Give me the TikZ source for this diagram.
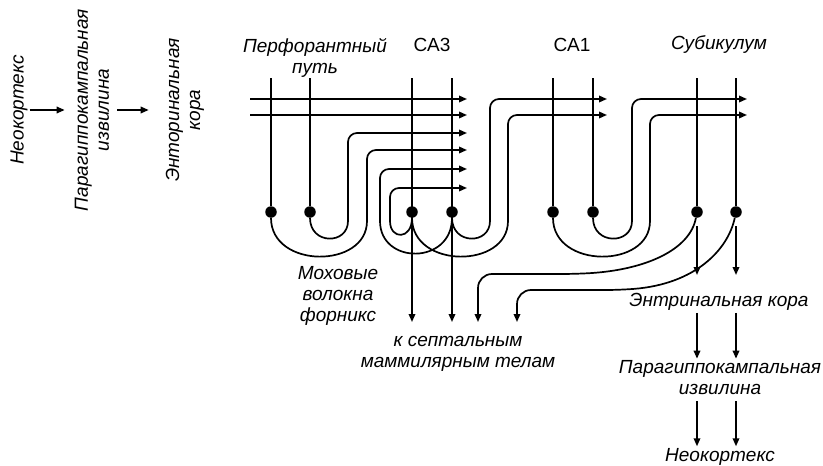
\documentclass[tikz,border=0pt]{standalone}
\usepackage{fontspec}
\setmainfont{Liberation Sans}
\usetikzlibrary{arrows.meta, positioning, calc}
\tikzset{
  dot/.style  ={circle, fill=black, minimum size=11.5pt, inner sep=0pt},
  fib/.style  ={line width=1.7pt, line join=round},
  fibA/.style ={fib, -{Triangle[length=8pt, width=6.5pt]}},
  ital/.style ={font=\fontsize{19}{21}\selectfont\itshape, align=center, inner sep=2pt},
  rom/.style  ={font=\fontsize{19}{21}\selectfont, inner sep=2pt},
}

\begin{document}
\begin{tikzpicture}[x=1pt, y=-1pt]
  \useasboundingbox (0,0) rectangle (823,466);
  % left chain
  \node[ital, rotate=90] (neoA)  at (19,110)  {Неокортекс};
  \node[ital, rotate=90] (paraA) at (92,110)  {Парагиппокампальная\\извилина};
  \node[ital, rotate=90] (entA)  at (185,110) {Энторинальная\\кора};
  \draw[fibA, shorten >=8pt] (neoA) -- (paraA);
  \draw[fibA, shorten <=6pt, shorten >=15pt] (paraA) -- (entA);
  % titles
  \node[ital] (perf) at (315,58) {Перфорантный\\путь};
  \node[rom]  (ca3)  at (432,45) {CA3};
  \node[rom]  (ca1)  at (572,45) {CA1};
  \node[ital] (sub)  at (719,45) {Субикулум};
  % cells
  \node[dot] (pp1)  at (271,212) {};
  \node[dot] (pp2)  at (310,212) {};
  \node[dot] (ca3a) at (412,212) {};
  \node[dot] (ca3b) at (452,212) {};
  \node[dot] (ca1a) at (553,212) {};
  \node[dot] (ca1b) at (593,212) {};
  \node[dot] (sub1) at (697,212) {};
  \node[dot] (sub2) at (736,212) {};
  % levels and ends
  \coordinate (top) at (0,78);
  \coordinate (low) at (0,322);
  \coordinate (mid) at (0,275);
  \coordinate (gap) at (0,226);
  \coordinate (in1) at (250,99);  \coordinate (in2) at (250,115);
  \coordinate (a1) at (467,99);   \coordinate (a2) at (467,115);
  \coordinate (a3) at (467,133);  \coordinate (a4) at (467,150);
  \coordinate (a5) at (467,169);  \coordinate (a6) at (467,188);
  \coordinate (b1) at (607,99);   \coordinate (b2) at (607,115);
  \coordinate (c1) at (747,99);   \coordinate (c2) at (747,115);
  \coordinate (d3) at (478,322);  \coordinate (d4) at (517,322);
  % bottom texts
  \node[ital] (moss) at (338,296) {Моховые\\волокна\\форникс};
  \node[ital] (sept) at (458,354) {к септальным\\маммилярным телам};
  \node[ital] (entB) at (719,302) {Энтринальная кора};
  \node[ital] (paraB) at (720,378) {Парагиппокампальная\\извилина};
  \node[ital] (neoB) at (720,457) {Неокортекс};
  % perforant path
  \draw[fibA] (in1) -- (a1);
  \draw[fibA] (in2) -- (a2);
  \draw[fib] (pp1 |- top) -- (pp1);
  \draw[fib] (pp2 |- top) -- (pp2);
  \draw[fibA, rounded corners=9pt] (pp1) .. controls (271,269) and (367,269) .. (367,212) |- (a4);
  \draw[fibA, rounded corners=9pt] (pp2) .. controls (310,245) and (348,245) .. (348,212) |- (a3);
  % CA3
  \draw[fibA] (ca3a |- top) -- (ca3a |- low);
  \draw[fibA] (ca3b |- top) -- (ca3b |- low);
  \draw[fibA, rounded corners=9pt] (ca3a) .. controls (412,240) and (390,240) .. (390,212) |- (a6);
  \draw[fibA, rounded corners=9pt] (ca3b) .. controls (452,265) and (380,265) .. (380,212) |- (a5);
  \draw[fibA, rounded corners=9pt] (ca3a) .. controls (412,269) and (508,269) .. (508,212) |- (b2);
  \draw[fibA, rounded corners=9pt] (ca3b) .. controls (452,245) and (490,245) .. (490,212) |- (b1);
  % CA1
  \draw[fib] (ca1a |- top) -- (ca1a);
  \draw[fib] (ca1b |- top) -- (ca1b);
  \draw[fibA, rounded corners=9pt] (ca1a) .. controls (553,269) and (650,269) .. (650,212) |- (c2);
  \draw[fibA, rounded corners=9pt] (ca1b) .. controls (593,245) and (632,245) .. (632,212) |- (c1);
  % subiculum
  \draw[fib] (sub1 |- top) -- (sub1);
  \draw[fib] (sub2 |- top) -- (sub2);
  \draw[fibA] (sub1 |- gap) -- (sub1 |- mid);
  \draw[fibA] (sub2 |- gap) -- (sub2 |- mid);
  \draw[fibA, rounded corners=14pt] (sub1) .. controls (690,250) and (645,270) .. (575,274) -| (d3);
  \draw[fibA, rounded corners=14pt] (sub2) .. controls (728,250) and (695,284) .. (620,290) -| (d4);
  \draw[fibA] (entB.south -| sub1) -- (paraB.north -| sub1);
  \draw[fibA] (entB.south -| sub2) -- (paraB.north -| sub2);
  \draw[fibA, shorten <=4pt] (paraB.south -| sub1) -- (neoB.north -| sub1);
  \draw[fibA, shorten <=4pt] (paraB.south -| sub2) -- (neoB.north -| sub2);
\end{tikzpicture}
\end{document}
